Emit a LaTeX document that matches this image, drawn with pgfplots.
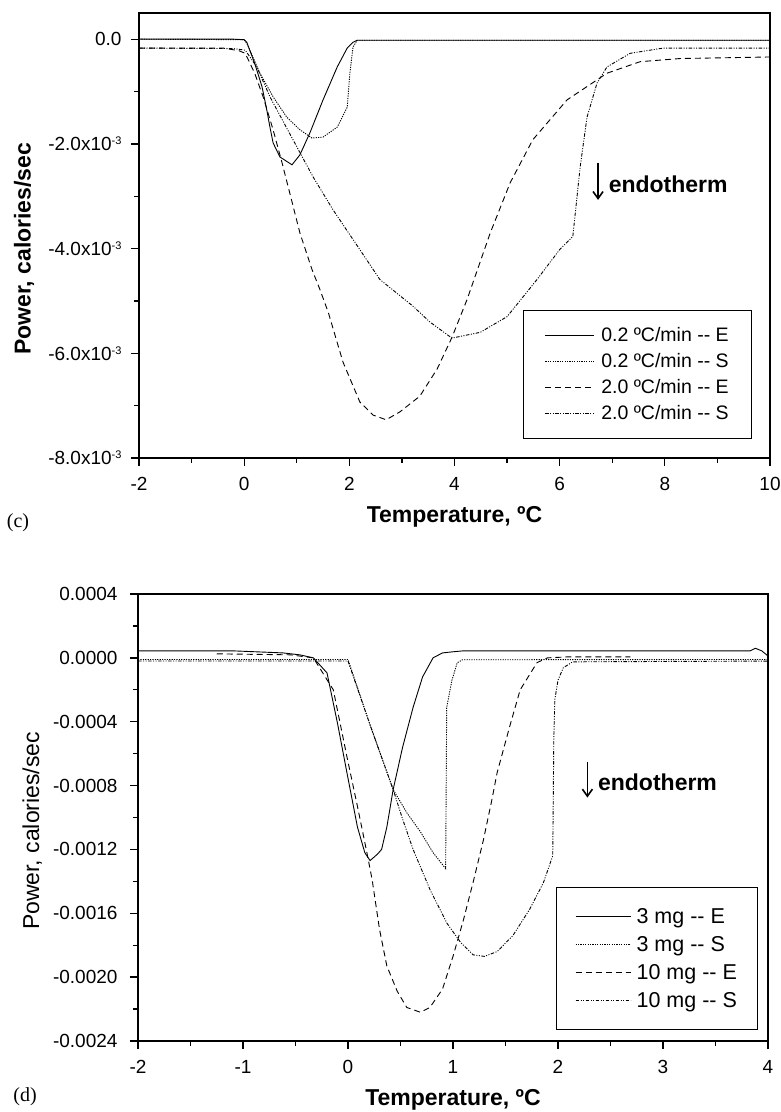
\documentclass[border=0pt]{standalone}
\usepackage{fontspec}
\setmainfont{Liberation Sans}
\newfontfamily\seriffont{Liberation Serif}
\usepackage{pgfplots}
\pgfplotsset{compat=1.18}
\usetikzlibrary{arrows.meta}

% tick label of the form 2.0x10^-3 (Origin leaves a gap after the exponent)
\newcommand{\sci}[1]{#1x10\raisebox{6bp}{\fontsize{11bp}{12bp}\selectfont -3}\hspace{9bp}}

\pgfplotsset{
  dsc/.style={
    scale only axis,
    anchor=south west,
    axis line style={line width=1.6bp},
    tick style={line width=1.3bp, black},
    tick align=outside,
    xtick pos=bottom, ytick pos=left,
    major tick length=8bp, minor tick length=5bp,
    scaled ticks=false,
    /pgf/number format/assume math mode=true,
    tick label style={font=\fontsize{19bp}{22bp}\selectfont},
    xticklabel style={yshift=-8bp},
    xlabel style={font=\fontsize{23bp}{26bp}\selectfont\bfseries, anchor=center},
    ylabel style={anchor=center},
    legend cell align=left,
    every axis plot/.append style={line width=0.9bp, black},
  },
  pE/.style={solid},
  pS/.style={dash pattern=on 1.2bp off 1.2bp},
  pEE/.style={dash pattern=on 6bp off 4bp},
  pSS/.style={dash pattern=on 3.5bp off 1.5bp on 1bp off 1.5bp on 1bp off 1.5bp},
}

\begin{document}
\begin{tikzpicture}
\useasboundingbox (0,0) rectangle (781bp,1112bp);

% ---- panel (c): heating rate
\begin{axis}[dsc,
    at={(139bp,654bp)}, width=631bp, height=445bp,
    xmin=-2, xmax=10, ymin=-8e-3, ymax=0.5e-3,
    xtick={-2,0,2,4,6,8,10}, minor xtick={-1,1,3,5,7,9},
    ytick={-8e-3,-6e-3,-4e-3,-2e-3,0},
    yticklabels={\sci{-8.0},\sci{-6.0},\sci{-4.0},\sci{-2.0},0.0},
    minor ytick={-7e-3,-5e-3,-3e-3,-1e-3},
    yticklabel style={xshift=-6bp},
    xlabel={Temperature, ºC},
    ylabel={Power, calories/sec},
    xlabel style={at={(axis description cs:0.5,-0.133)}},
    ylabel style={at={(axis description cs:-0.182,0.47)}, font=\fontsize{23bp}{26bp}\selectfont\bfseries},
    legend image code/.code={\draw[#1] (0bp,0bp) -- (49bp,0bp);},
    legend style={at={(0.971,0.043)}, anchor=south east, draw=black, line width=1bp,
      font=\fontsize{19.5bp}{22bp}\selectfont, inner xsep=21bp, inner ysep=15.5bp,
      row sep=7.5bp, nodes={inner sep=1.5bp},
      /tikz/every odd column/.append style={column sep=5bp}},
  ]
\addplot[pE] coordinates {
 (-2,0) (-0.2,0) (0,-0.01e-3) (0.05,-0.06e-3) (0.2,-0.46e-3) (0.34,-0.91e-3)
 (0.43,-1.35e-3) (0.49,-1.68e-3) (0.55,-1.98e-3) (0.68,-2.25e-3) (0.91,-2.4e-3)
 (1.06,-2.21e-3) (1.25,-1.79e-3) (1.5,-1.16e-3) (1.77,-0.53e-3) (1.96,-0.17e-3)
 (2.07,-0.06e-3) (2.15,-0.02e-3) (10,-0.02e-3)
};
\addlegendentry{0.2 ºC/min -{}- E}
\addplot[pS] coordinates {
 (-2,0) (0,-0.01e-3) (0.05,-0.08e-3) (0.3,-0.65e-3) (0.55,-1.1e-3) (0.81,-1.49e-3)
 (1.06,-1.73e-3) (1.29,-1.89e-3) (1.5,-1.87e-3) (1.77,-1.68e-3) (1.96,-1.3e-3)
 (2.01,-0.65e-3) (2.07,-0.15e-3) (2.15,-0.02e-3) (10,-0.02e-3)
};
\addlegendentry{0.2 ºC/min -{}- S}
\addplot[pEE] coordinates {
 (-2,-0.17e-3) (-0.4,-0.17e-3) (-0.1,-0.22e-3) (0.02,-0.27e-3) (0.2,-0.65e-3)
 (0.36,-1.1e-3) (0.55,-1.73e-3) (0.72,-2.36e-3) (1.06,-3.7e-3) (1.29,-4.4e-3)
 (1.44,-4.78e-3) (1.6,-5.22e-3) (1.88,-6.17e-3) (2.2,-6.93e-3) (2.45,-7.18e-3)
 (2.7,-7.27e-3) (2.96,-7.12e-3) (3.34,-6.82e-3) (3.67,-6.3e-3) (3.95,-5.7e-3)
 (4.24,-4.97e-3) (4.68,-3.7e-3) (5.06,-2.74e-3) (5.49,-1.92e-3) (6.14,-1.16e-3)
 (6.9,-0.65e-3) (7.53,-0.43e-3) (8.29,-0.37e-3) (10,-0.34e-3)
};
\addlegendentry{2.0 ºC/min -{}- E}
\addplot[pSS] coordinates {
 (-2,-0.17e-3) (-0.2,-0.18e-3) (0.02,-0.21e-3) (0.24,-0.53e-3) (0.49,-1.1e-3)
 (0.81,-1.7e-3) (1.31,-2.63e-3) (1.69,-3.26e-3) (2.2,-4.02e-3) (2.58,-4.59e-3)
 (3.21,-5.1e-3) (3.53,-5.4e-3) (3.95,-5.71e-3) (4.49,-5.6e-3) (5.0,-5.3e-3)
 (5.57,-4.59e-3) (6.0,-4.02e-3) (6.25,-3.77e-3) (6.39,-2.44e-3) (6.52,-1.49e-3)
 (6.71,-0.84e-3) (6.9,-0.53e-3) (7.34,-0.27e-3) (7.97,-0.17e-3) (10,-0.17e-3)
};
\addlegendentry{2.0 ºC/min -{}- S}
\draw[line width=1.6bp, -{Straight Barb[length=7bp,width=10bp,line width=1.6bp]}]
  (axis cs:6.73,-2.36e-3) -- (axis cs:6.73,-3.07e-3);
\node[anchor=west, font=\fontsize{23bp}{26bp}\selectfont\bfseries, inner sep=0pt]
  at (axis cs:6.93,-2.78e-3) {endotherm};
\end{axis}

% ---- panel (d): sample mass
\begin{axis}[dsc,
    at={(138bp,71bp)}, width=630bp, height=447bp,
    xmin=-2, xmax=4, ymin=-0.0024, ymax=0.0004,
    xtick={-2,-1,0,1,2,3,4}, minor xtick={-1.5,-0.5,0.5,1.5,2.5,3.5},
    ytick={-0.0024,-0.0020,-0.0016,-0.0012,-0.0008,-0.0004,0,0.0004},
    yticklabels={-0.0024,-0.0020,-0.0016,-0.0012,-0.0008,-0.0004,0.0000,0.0004},
    minor ytick={-0.0022,-0.0018,-0.0014,-0.0010,-0.0006,-0.0002,0.0002},
    yticklabel style={xshift=-9bp},
    xlabel={Temperature, ºC},
    ylabel={Power, calories/sec},
    xlabel style={at={(axis description cs:0.5,-0.132)}},
    ylabel style={at={(axis description cs:-0.168,0.47)}, font=\fontsize{23bp}{26bp}\selectfont},
    legend image code/.code={\draw[#1] (0bp,0bp) -- (55bp,0bp);},
    legend style={at={(0.984,0.025)}, anchor=south east, draw=black, line width=1bp,
      font=\fontsize{21.5bp}{24bp}\selectfont, inner xsep=19bp, inner ysep=19bp,
      row sep=8.5bp, nodes={inner sep=1.5bp},
      /tikz/every odd column/.append style={column sep=4bp}},
  ]
\addplot[pE] coordinates {
 (-2,0.44e-4) (-1.1,0.44e-4) (-0.62,0.31e-4) (-0.46,0.19e-4) (-0.33,0) (-0.2,-0.94e-4)
 (-0.1,-4.1e-4) (-0.01,-7.2e-4) (0.09,-10.6e-4) (0.16,-12.2e-4) (0.21,-12.7e-4)
 (0.28,-12.3e-4) (0.32,-12.0e-4) (0.37,-10.6e-4) (0.43,-8.25e-4) (0.52,-5.6e-4)
 (0.62,-3.1e-4) (0.71,-1.2e-4) (0.81,0) (0.9,0.31e-4) (1.0,0.38e-4) (1.1,0.44e-4)
 (3.83,0.44e-4) (3.88,0.6e-4) (3.94,0.44e-4) (4.0,0.12e-4)
};
\addlegendentry{3 mg -{}- E}
\addplot[pS] coordinates {
 (-2,-0.1e-4) (0,-0.1e-4) (0.21,-4.2e-4) (0.43,-8.25e-4) (0.56,-9.7e-4) (0.69,-10.9e-4)
 (0.81,-12.2e-4) (0.93,-13.2e-4) (0.94,-3.1e-4) (0.99,-1.4e-4) (1.04,-0.31e-4)
 (1.09,-0.12e-4) (4,-0.1e-4)
};
\addlegendentry{3 mg -{}- S}
\addplot[pEE] coordinates {
 (-1.25,0.25e-4) (-0.55,0.19e-4) (-0.33,0) (-0.14,-2.0e-4) (-0.01,-6.2e-4) (0.09,-9.3e-4)
 (0.18,-12.2e-4) (0.23,-13.9e-4) (0.3,-17.0e-4) (0.37,-19.3e-4) (0.47,-20.9e-4)
 (0.56,-21.9e-4) (0.69,-22.2e-4) (0.78,-21.9e-4) (0.9,-20.75e-4) (1.0,-18.7e-4)
 (1.1,-16.4e-4) (1.19,-14.1e-4) (1.29,-11.4e-4) (1.37,-8.9e-4) (1.42,-7.2e-4)
 (1.54,-4.3e-4) (1.64,-2.0e-4) (1.8,-0.3e-4) (1.9,0) (2.09,0.06e-4) (2.69,0.06e-4)
};
\addlegendentry{10 mg -{}- E}
\addplot[pSS] coordinates {
 (-2,-0.2e-4) (0,-0.2e-4) (0.21,-4.2e-4) (0.43,-8.25e-4) (0.52,-10.1e-4) (0.62,-12.0e-4)
 (0.78,-14.5e-4) (0.94,-16.6e-4) (1.07,-17.8e-4) (1.19,-18.6e-4) (1.3,-18.7e-4)
 (1.42,-18.4e-4) (1.57,-17.4e-4) (1.73,-15.75e-4) (1.86,-14.1e-4) (1.95,-12.4e-4)
 (1.96,-5.1e-4) (1.97,-2.6e-4) (2.0,-1.4e-4) (2.05,-0.62e-4) (2.14,-0.25e-4) (4,-0.2e-4)
};
\addlegendentry{10 mg -{}- S}
\draw[line width=1.6bp, -{Straight Barb[length=7bp,width=10bp,line width=1.6bp]}]
  (axis cs:2.28,-6.5e-4) -- (axis cs:2.28,-8.75e-4);
\node[anchor=west, font=\fontsize{23bp}{26bp}\selectfont\bfseries, inner sep=0pt]
  at (axis cs:2.38,-7.8e-4) {endotherm};
\end{axis}

\node[font=\seriffont\fontsize{20bp}{22bp}\selectfont] at (18bp,589bp) {(c)};
\node[font=\seriffont\fontsize{20bp}{22bp}\selectfont] at (25bp,15bp) {(d)};
\end{tikzpicture}
\end{document}
